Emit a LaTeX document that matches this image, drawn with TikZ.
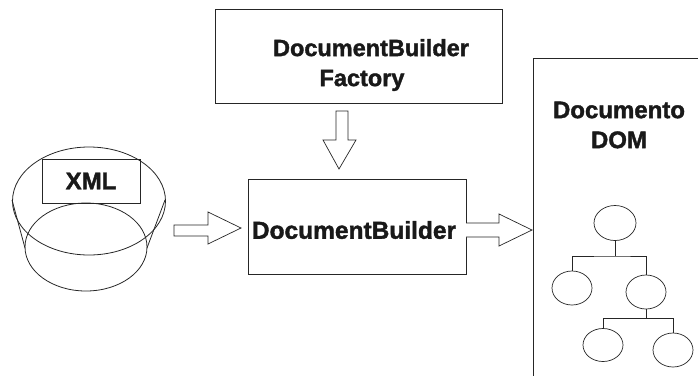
\documentclass[tikz,border=0pt]{standalone}
\usepackage{fontspec}
\setmainfont{Liberation Sans}
\newfontfamily\heavyfont[FakeBold=1.6]{Liberation Sans Bold}
\usetikzlibrary{shapes.geometric}
\begin{document}
\begin{tikzpicture}[x=1pt,y=-1pt,
  box/.style={draw=black!85,line width=0.8pt},
  lbl/.style={font=\fontsize{24}{30}\selectfont\heavyfont,text=black!90,align=center,inner sep=0pt},
  fat/.style={draw=black!85,line width=0.7pt,fill=white},
  leaf/.style={draw=black!85,line width=0.7pt,ellipse},
  edge/.style={draw=black!85,line width=0.8pt}]
\useasboundingbox (0,0) rectangle (698,376);
% Cylinder (XML)
\draw[box] (12,200) -- (25,248);
\draw[box] (165,200) -- (147,248);
\draw[box] (86,247) ellipse [x radius=61, y radius=44];
\draw[box] (89,201) ellipse [x radius=76.5, y radius=54];
\node[box,minimum width=98,minimum height=44,anchor=north west] (xml) at (42,159) {};
\node[lbl] (xmlt) at (91,181) {XML};
% Factory box
\node[box,minimum width=287,minimum height=94,anchor=north west] (fac) at (215,9) {};
\node[lbl,font=\fontsize{23.5}{30}\selectfont\heavyfont] (fact) at (362,65) {\hspace*{18pt}DocumentBuilder\\Factory};
% DocumentBuilder box
\node[box,minimum width=218,minimum height=95,anchor=north west] (db) at (248,179) {};
\node[lbl,font=\fontsize{24.5}{30}\selectfont\heavyfont] (dbt) at (354,230) {DocumentBuilder};
% DOM page
\coordinate (domtl) at (533,58);
\draw[box] (698,58) -- (domtl) -- (533,376);
\node[lbl] (domt) at (619,125) {Documento\\DOM};
% arrows
\draw[fat] (336,111) -- (348,111) -- (348,140) -- (356,140) -- (339,169) -- (323,140) -- (336,140) -- cycle;
\draw[fat] (174,225) -- (208,225) -- (208,212) -- (241,228) -- (208,244) -- (208,236) -- (174,236) -- cycle;
\draw[fat] (466,223) -- (499,223) -- (499,214) -- (532,230) -- (499,246) -- (499,237) -- (466,237);
% tree
\node[leaf,minimum width=42,minimum height=35,inner sep=0] (r) at (615,223) {};
\node[leaf,minimum width=40,minimum height=34,inner sep=0] (a) at (572,288) {};
\node[leaf,minimum width=40,minimum height=34,inner sep=0] (b) at (646,292) {};
\node[leaf,minimum width=40,minimum height=33,inner sep=0] (c) at (603,345) {};
\node[leaf,minimum width=40,minimum height=34,inner sep=0] (d) at (673,350) {};
\coordinate (j1) at (615,256);
\coordinate (j2) at (646,318);
\draw[edge] (r.south) -- (j1);
\draw[edge] (a.north) |- (j1) -| (b.north);
\draw[edge] (b.south) -- (j2);
\draw[edge] (c.north) |- (j2) -| (d.north);
\end{tikzpicture}
\end{document}
